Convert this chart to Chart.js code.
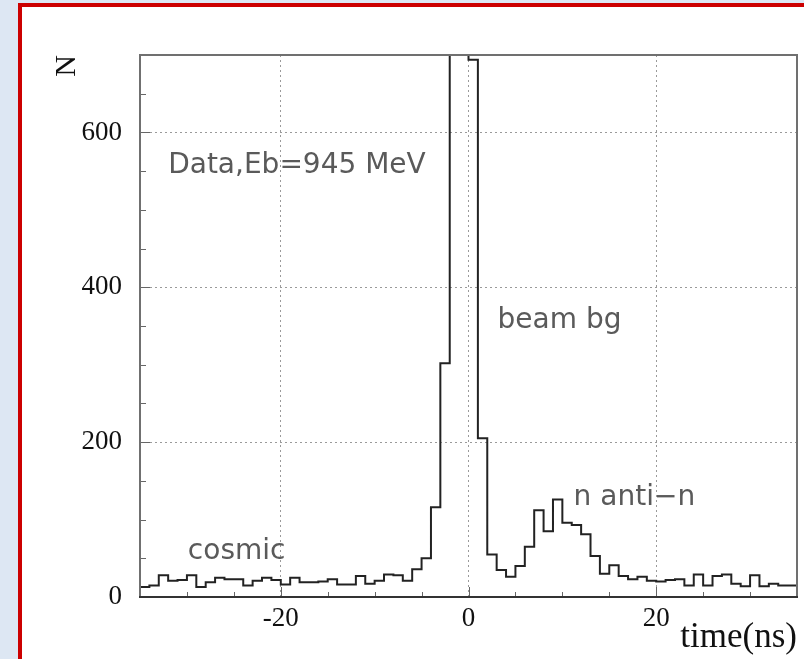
<!DOCTYPE html>
<html>
<head>
<meta charset="utf-8">
<title>Time spectrum, Eb = 945 MeV</title>
<script src="https://cdn.jsdelivr.net/npm/chart.js@4.4.1/dist/chart.umd.min.js"></script>
<style>
  html, body { margin: 0; padding: 0; }
  body { width: 804px; height: 659px; background: #dde7f3; position: relative; overflow: hidden; }
  .frame {
    position: absolute; left: 18px; top: 3px; right: 0; bottom: 0;
    background: #fff; border-left: 4px solid #cc0000; border-top: 4px solid #cc0000;
  }
  #histo { position: absolute; left: 0; top: 0; }
</style>
</head>
<body>
<div class="frame"></div>
<canvas id="histo" width="804" height="659"></canvas>
<script>
// bin left edges (ns), 1 ns wide
const binLeft = [
  -35, -34, -33, -32, -31, -30, -29, -28, -27, -26,
  -25, -24, -23, -22, -21, -20, -19, -18, -17, -16,
  -15, -14, -13, -12, -11, -10, -9, -8, -7, -6,
  -5, -4, -3, -2, -1, 0, 1, 2, 3, 4,
  5, 6, 7, 8, 9, 10, 11, 12, 13, 14,
  15, 16, 17, 18, 19, 20, 21, 22, 23, 24,
  25, 26, 27, 28, 29, 30, 31, 32, 33, 34
];
// entries per bin (the two bins at -2 and -1 are off scale)
const counts = [
  13, 15, 28, 21, 22, 28, 13, 19, 25, 23,
  23, 15, 21, 25, 22, 16, 25, 19, 19, 20,
  23, 16, 16, 27, 17, 21, 29, 28, 21, 36,
  50, 116, 302, 1100, 1300, 694, 205, 55, 35, 26,
  40, 65, 112, 85, 126, 96, 93, 81, 53, 30,
  41, 27, 23, 26, 21, 20, 22, 23, 15, 29,
  15, 27, 29, 17, 14, 28, 14, 17, 15, 15
];
const xRange = [-35, 35];
const yRange = [0, 700];
const xTickLabels = [-20, 0, 20];
const yTickLabels = [0, 200, 400, 600];

// text notes placed in data coordinates (left edge, baseline)
const notes = [
  { text: 'Data,Eb=945 MeV', x: -32.0, y: 548 },
  { text: 'beam bg', x: 3.1, y: 347 },
  { text: 'n anti\u2212n', x: 11.2, y: 119 },
  { text: 'cosmic', x: -29.9, y: 49 }
];

const points = binLeft.map((x, i) => ({ x: x, y: counts[i] }));
points.push({ x: xRange[1], y: counts[counts.length - 1] });

const tickFont = { family: '"Liberation Serif", serif', size: 27 };

/**
 * Frame, inward ticks, notes and axis titles
 */
const decor = {
    id: 'decor',
    afterDatasetsDraw(chart) {
        const { ctx, chartArea: a, scales: { x, y } } = chart;
        ctx.save();

        // inward tick marks
        ctx.strokeStyle = '#666';
        ctx.lineWidth = 1;
        ctx.beginPath();
        y.ticks.forEach(t => {
            const py = Math.round(y.getPixelForValue(t.value)) + 0.5;
            const len = yTickLabels.includes(t.value) ? 10 : 6;
            ctx.moveTo(a.left, py);
            ctx.lineTo(a.left + len, py);
        });
        x.ticks.forEach(t => {
            const px = Math.round(x.getPixelForValue(t.value)) + 0.5;
            const len = xTickLabels.includes(t.value) ? 10 : 5;
            ctx.moveTo(px, a.bottom);
            ctx.lineTo(px, a.bottom - len);
        });
        ctx.stroke();

        // plot frame
        ctx.lineWidth = 2;
        ctx.strokeStyle = '#707070';
        ctx.strokeRect(a.left, a.top, a.right - a.left, a.bottom - a.top);
        ctx.strokeStyle = '#333';
        ctx.beginPath();
        ctx.moveTo(a.left - 1, a.bottom);
        ctx.lineTo(a.right + 1, a.bottom);
        ctx.stroke();

        // notes
        ctx.fillStyle = '#5a5a5a';
        ctx.font = '28px "DejaVu Sans"';
        ctx.textAlign = 'left';
        ctx.textBaseline = 'alphabetic';
        notes.forEach(n => {
            ctx.fillText(n.text, x.getPixelForValue(n.x), y.getPixelForValue(n.y));
        });

        // axis titles
        ctx.fillStyle = '#111';
        ctx.font = '35px "Liberation Serif"';
        ctx.textAlign = 'right';
        ctx.fillText('time(ns)', a.right, a.bottom + 50);

        ctx.font = '30px "Liberation Serif"';
        ctx.translate(a.left - 73, a.top + 11);
        ctx.rotate(-Math.PI / 2);
        ctx.textAlign = 'center';
        ctx.textBaseline = 'middle';
        ctx.fillText('N', 0, 0);

        ctx.restore();
    }
};

new Chart(document.getElementById('histo').getContext('2d'), {
    type: 'line',
    data: {
        datasets: [{
            data: points,
            stepped: 'before',
            borderColor: '#222',
            borderWidth: 2,
            pointRadius: 0,
            fill: false
        }]
    },
    options: {
        responsive: false,
        animation: false,
        layout: { padding: { left: 0, top: 55, right: 7, bottom: 0 } },
        plugins: { legend: { display: false }, tooltip: { enabled: false } },
        scales: {
            x: {
                type: 'linear',
                min: xRange[0],
                max: xRange[1],
                afterFit: s => { s.height = 62; },
                ticks: {
                    stepSize: 5,
                    autoSkip: false,
                    maxRotation: 0,
                    padding: 6,
                    color: '#111',
                    font: tickFont,
                    callback: v => xTickLabels.includes(v) ? String(v) : ''
                },
                grid: {
                    drawTicks: false,
                    lineWidth: 1,
                    color: c => (c.tick && xTickLabels.includes(c.tick.value)) ? '#9a9a9a' : 'rgba(0,0,0,0)'
                },
                border: { display: false, dash: [2, 3] }
            },
            y: {
                min: yRange[0],
                max: yRange[1],
                afterFit: s => { s.width = 140; },
                ticks: {
                    stepSize: 50,
                    autoSkip: false,
                    padding: 18,
                    color: '#111',
                    font: tickFont,
                    callback: v => yTickLabels.includes(v) ? String(v) : ''
                },
                grid: {
                    drawTicks: false,
                    lineWidth: 1,
                    color: c => (c.tick && c.tick.value !== 0 && yTickLabels.includes(c.tick.value)) ? '#9a9a9a' : 'rgba(0,0,0,0)'
                },
                border: { display: false, dash: [2, 3] }
            }
        }
    },
    plugins: [decor]
});
</script>
</body>
</html>
